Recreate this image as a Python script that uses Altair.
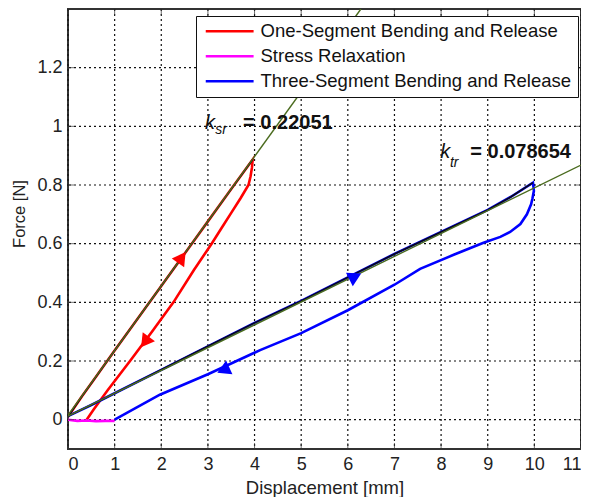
import altair as alt
import pandas as pd

# ---------------- data ----------------
series_names = ["One-Segment Bending and Release", "Stress Relaxation",
                "Three-Segment Bending and Release"]
series_colors = ["#ff0000", "#ff00ff", "#0000ff"]

# One-segment: loading (first 10 points) then unloading
red_x = [0.0, 0.3, 0.6, 1.0, 1.5, 2.0, 2.5, 3.0, 3.5, 3.96,
         3.945, 3.915, 3.87, 3.7, 3.5, 3.3, 3.08, 2.7, 2.26, 1.8, 1.33, 0.85, 0.55, 0.40]
red_y = [0.010, 0.080, 0.146, 0.236, 0.346, 0.456, 0.566, 0.676, 0.786, 0.887,
         0.860, 0.830, 0.800, 0.755, 0.705, 0.655, 0.600, 0.510, 0.400, 0.300, 0.200, 0.100, 0.035, 0.0]
red_load_n = 10

# Stress relaxation
mag_x = [0.0, 0.2, 0.4, 0.6, 0.8, 1.0]
mag_y = [0.0, -0.004, -0.003, -0.005, -0.004, -0.004]

# Three-segment: loading (first 13 points) then unloading
blue_x = [0.0, 0.5, 1.0, 2.0, 3.0, 4.0, 5.0, 6.0, 7.0, 8.0, 9.0, 9.5, 9.97,
          9.99, 9.96, 9.93, 9.84, 9.70, 9.48, 9.27, 8.91, 8.63, 8.27, 7.55, 7.0,
          6.0, 5.0, 4.12, 3.0, 1.97, 1.0]
blue_y = [0.012, 0.050, 0.090, 0.170, 0.250, 0.330, 0.405, 0.485, 0.565, 0.640, 0.715, 0.760, 0.808,
          0.780, 0.755, 0.734, 0.700, 0.667, 0.640, 0.623, 0.603, 0.585, 0.562, 0.514, 0.460,
          0.373, 0.295, 0.237, 0.155, 0.085, 0.0]
blue_load_n = 13

# Fitted lines (end points)
fit_sr_x = [0.0, 6.28]
fit_sr_y = [0.015, 1.40]
fit_tr_x = [0.0, 11.0]
fit_tr_y = [0.012, 0.868]

# Direction arrows
red_arrow_x = [2.44, 1.65]
red_arrow_y = [0.553, 0.265]
red_arrow_angle = [35.6, 216.3]
blue_arrow_x = [6.16, 3.33]
blue_arrow_y = [0.488, 0.169]
blue_arrow_angle = [63.5, 245.5]

x_ticks = [0, 1, 2, 3, 4, 5, 6, 7, 8, 9, 10, 11]
y_ticks = [0, 0.2, 0.4, 0.6, 0.8, 1, 1.2]

# ---------------- tables ----------------
rows = []
for name, xs, ys in zip(series_names, [red_x, mag_x, blue_x], [red_y, mag_y, blue_y]):
    for i, (xv, yv) in enumerate(zip(xs, ys)):
        rows.append({"series": name, "x": xv, "y": yv, "order": i})
df_series = pd.DataFrame(rows)

load_rows = []
for seg, xs, ys in [("r", red_x[:red_load_n], red_y[:red_load_n]),
                    ("b", blue_x[:blue_load_n], blue_y[:blue_load_n])]:
    for i, (xv, yv) in enumerate(zip(xs, ys)):
        load_rows.append({"seg": seg, "x": xv, "y": yv, "order": i})
df_load = pd.DataFrame(load_rows)

fit_rows = []
for seg, xs, ys in [("sr", fit_sr_x, fit_sr_y), ("tr", fit_tr_x, fit_tr_y)]:
    for i, (xv, yv) in enumerate(zip(xs, ys)):
        fit_rows.append({"seg": seg, "x": xv, "y": yv, "order": i})
df_fit = pd.DataFrame(fit_rows)

df_red_arrow = pd.DataFrame({"x": red_arrow_x, "y": red_arrow_y, "angle": red_arrow_angle})
df_blue_arrow = pd.DataFrame({"x": blue_arrow_x, "y": blue_arrow_y, "angle": blue_arrow_angle})
df_xt = pd.DataFrame({"x": x_ticks})
df_yt = pd.DataFrame({"y": y_ticks})

df_k = pd.DataFrame({"x": [2.94, 7.98], "y": [0.99, 0.8915], "t": ["k", "k"]})
df_sub = pd.DataFrame({"x": [3.16, 8.19], "y": [0.973, 0.861], "t": ["sr", "tr"]})
df_val = pd.DataFrame({"x": [3.755, 8.627], "y": [0.99, 0.8915], "t": ["= 0.22051", "= 0.078654"]})
df_ytitle = pd.DataFrame({"t": ["Force [N]"]})

FONT = "Liberation Sans"

X = alt.X("x:Q", scale=alt.Scale(domain=[0, 11], nice=False, zero=False),
          axis=alt.Axis(values=x_ticks, format="d", title="Displacement [mm]", grid=False,
                        labelFontSize=18, labelPadding=6, titleFontSize=18.5,
                        titleY=44, titleBaseline="alphabetic", titleFontWeight="normal"))
Y = alt.Y("y:Q", scale=alt.Scale(domain=[-0.1, 1.4], nice=False, zero=False),
          axis=alt.Axis(values=y_ticks, format="~g", title=None, grid=False,
                        labelFontSize=18, labelPadding=6))

grid_v = alt.Chart(df_xt).mark_rule(color="#111", strokeWidth=1.2, strokeDash=[2, 3], opacity=1).encode(x=X)
grid_h = alt.Chart(df_yt).mark_rule(color="#111", strokeWidth=1.2, strokeDash=[2, 3], opacity=1).encode(y=Y)

lines = alt.Chart(df_series).mark_line(strokeWidth=2.6, clip=True).encode(
    x=X, y=Y,
    color=alt.Color("series:N",
                    scale=alt.Scale(domain=series_names, range=series_colors),
                    legend=alt.Legend(title=None, orient="none", legendX=128, legendY=7,
                                      symbolType="M-1,0H7.7", symbolSize=121,
                                      symbolStrokeWidth=2.5, labelFont=FONT,
                                      labelFontSize=18.5, labelOffset=40, labelLimit=420,
                                      padding=6, rowPadding=6, strokeColor="#111",
                                      fillColor="white", labelColor="#111")),
    order=alt.Order("order:Q"),
)

overlay = alt.Chart(df_load).mark_line(strokeWidth=1.6, color="#0a0a14", clip=True).encode(
    x=X, y=Y, detail="seg:N", order=alt.Order("order:Q"))

fits = alt.Chart(df_fit).mark_line(strokeWidth=1.4, color="#4a6b1e", clip=True).encode(
    x=X, y=Y, detail="seg:N", order=alt.Order("order:Q"))

red_arrows = alt.Chart(df_red_arrow).mark_point(shape="triangle-up", filled=True, size=230,
                                                 color="#ff0000", opacity=1).encode(
    x=X, y=Y, angle=alt.Angle("angle:Q", scale=None))
blue_arrows = alt.Chart(df_blue_arrow).mark_point(shape="triangle-up", filled=True, size=230,
                                                   color="#0000ff", opacity=1).encode(
    x=X, y=Y, angle=alt.Angle("angle:Q", scale=None))

tick_bottom = alt.Chart(df_xt).mark_tick(orient="vertical", size=6, thickness=1, color="#333").encode(
    x=X, y=alt.value(437))
tick_top = alt.Chart(df_xt).mark_tick(orient="vertical", size=6, thickness=1, color="#333").encode(
    x=X, y=alt.value(3))
tick_left = alt.Chart(df_yt).mark_tick(orient="horizontal", size=6, thickness=1, color="#333").encode(
    y=Y, x=alt.value(3))
tick_right = alt.Chart(df_yt).mark_tick(orient="horizontal", size=6, thickness=1, color="#333").encode(
    y=Y, x=alt.value(510))

k_text = alt.Chart(df_k).mark_text(align="left", baseline="alphabetic", font=FONT,
                                   fontSize=20, fontStyle="italic", color="#111").encode(
    x=X, y=Y, text="t:N")
sub_text = alt.Chart(df_sub).mark_text(align="left", baseline="alphabetic", font=FONT,
                                       fontSize=14, fontStyle="italic", color="#111").encode(
    x=X, y=Y, text="t:N")
val_text = alt.Chart(df_val).mark_text(align="left", baseline="alphabetic", font=FONT,
                                       fontSize=20, fontWeight="bold", color="#111").encode(
    x=X, y=Y, text="t:N")

y_title = alt.Chart(df_ytitle).mark_text(align="center", baseline="alphabetic", font=FONT,
                                         fontSize=16.5, angle=270, color="#222").encode(
    x=alt.value(-43), y=alt.value(205), text="t:N")

chart = alt.layer(
    grid_v, grid_h,
    lines, overlay, fits, red_arrows, blue_arrows,
    tick_bottom, tick_top, tick_left, tick_right,
    k_text, sub_text, val_text, y_title,
).properties(
    width=513, height=440,
    autosize=alt.AutoSizeParams(type="none"),
    padding={"left": 60, "top": 1, "right": 0, "bottom": 48},
    background="white",
).configure_view(
    stroke="#333", strokeWidth=2,
).configure_axis(
    labelFont=FONT, titleFont=FONT, labelColor="#222", titleColor="#222",
    tickSize=0, domain=False,
)

chart.save("out.html", embed_options={"renderer": "svg", "actions": False})
